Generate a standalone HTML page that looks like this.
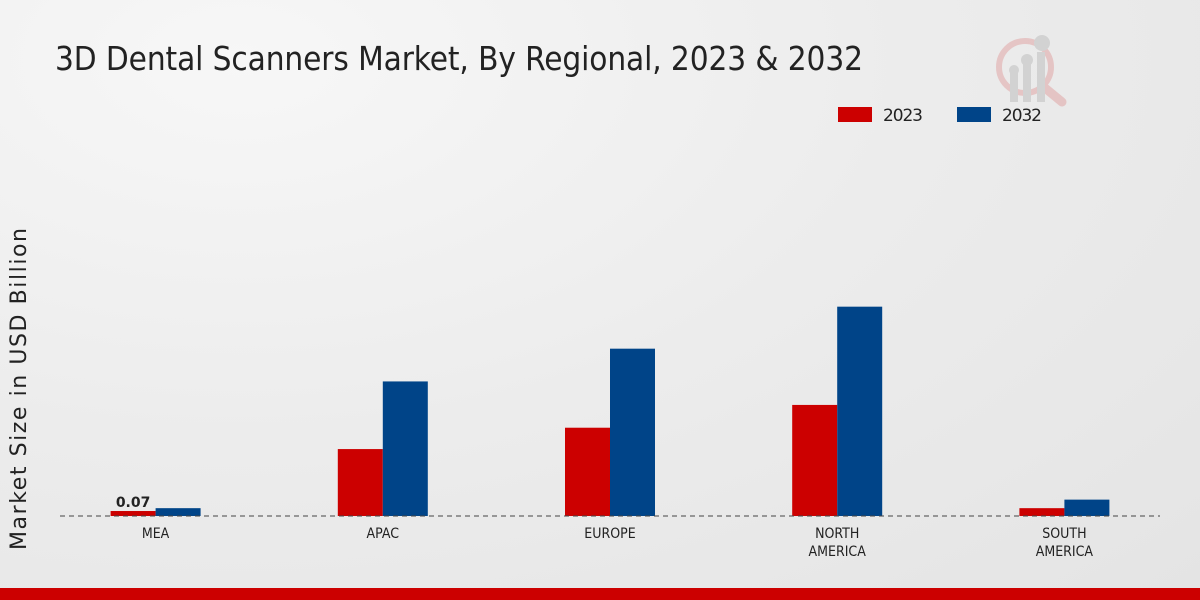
<!DOCTYPE html>
<html><head><meta charset="utf-8"><style>
body{margin:0;width:1200px;height:600px;overflow:hidden;font-family:"DejaVu Sans","Liberation Sans",sans-serif;}
#bg{position:absolute;left:0;top:0;width:1200px;height:600px;background:radial-gradient(ellipse at 20% 10%,#f7f7f7 0%,#ececec 50%,#e4e4e4 100%);}
</style></head><body>
<div id="bg"></div>
<svg id="c" width="1200" height="600" style="position:absolute;left:0;top:0">
<text x="55" y="70" font-size="33" fill="#222" font-family="DejaVu Sans Condensed, DejaVu Sans, sans-serif" textLength="808">3D Dental Scanners Market, By Regional, 2023 &amp; 2032</text>
<g opacity="0.5">
<circle cx="1025" cy="67" r="26" fill="none" stroke="#e0a0a0" stroke-width="6"/>
<line x1="1045" y1="88" x2="1062" y2="102" stroke="#e0a0a0" stroke-width="9" stroke-linecap="round"/>
<rect x="1010" y="72" width="8" height="30" fill="#bbb"/><rect x="1023" y="62" width="8" height="40" fill="#bbb"/><rect x="1037" y="52" width="8" height="50" fill="#bbb"/>
<circle cx="1014" cy="70" r="5" fill="#bbb"/><circle cx="1027" cy="60" r="6" fill="#bbb"/><circle cx="1042" cy="43" r="8" fill="#bbb"/>
</g>
<rect x="838" y="107" width="34" height="15" fill="#cc0000"/>
<text x="883" y="121" font-size="17" fill="#222" textLength="40">2023</text>
<rect x="957" y="107" width="34" height="15" fill="#004488"/>
<text x="1002" y="121" font-size="17" fill="#222" textLength="40">2032</text>
<text transform="translate(26,389) rotate(-90)" text-anchor="middle" font-size="22" fill="#222" textLength="322">Market Size in USD Billion</text>
<g id="bars"></g>
<line x1="60" y1="516" x2="1160" y2="516" stroke="#444" stroke-dasharray="5,4"/>
<g id="labels"></g>
</svg>
<div style="position:absolute;left:0;top:588px;width:1200px;height:12px;background:#cc0000"></div>
<script>
const categories=[["MEA"],["APAC"],["EUROPE"],["NORTH","AMERICA"],["SOUTH","AMERICA"]];
const values2023=[0.07,0.94,1.24,1.56,0.11];
const values2032=[0.11,1.89,2.35,2.94,0.23];
const NS="http://www.w3.org/2000/svg";
const x0=42,band=227.2,base=516,pxPer=71.2,bw=45;
const xc=i=>x0+band*(i+0.5);
const y=v=>base-v*pxPer;
const bars=document.getElementById('bars'),labels=document.getElementById('labels');
categories.forEach((c,i)=>{
 [[values2023,'#cc0000',-bw,'2023'],[values2032,'#004488',0,'2032']].forEach(([arr,col,off,yr])=>{
  const r=document.createElementNS(NS,'rect');
  r.setAttribute('x',xc(i)+off);r.setAttribute('y',y(arr[i]));
  r.setAttribute('width',bw);r.setAttribute('height',base-y(arr[i]));r.setAttribute('fill',col);
  
  
  bars.appendChild(r);
 });
 c.forEach((l,k)=>{
  const t=document.createElementNS(NS,'text');
  t.setAttribute('x',xc(i));t.setAttribute('y',538+k*18);t.setAttribute('text-anchor','middle');
  t.setAttribute('font-size','14');t.setAttribute('fill','#222');t.textContent=l;
  t.setAttribute('font-family','DejaVu Sans Condensed, DejaVu Sans, sans-serif');
  
  
  labels.appendChild(t);
 });
});
const v=document.createElementNS(NS,'text');
v.setAttribute('x',xc(0)-bw/2);v.setAttribute('y',y(values2023[0])-4);v.setAttribute('text-anchor','middle');
v.setAttribute('font-size','14');v.setAttribute('font-weight','bold');v.setAttribute('fill','#222');v.textContent=values2023[0];


labels.appendChild(v);
</script>
</body></html>
